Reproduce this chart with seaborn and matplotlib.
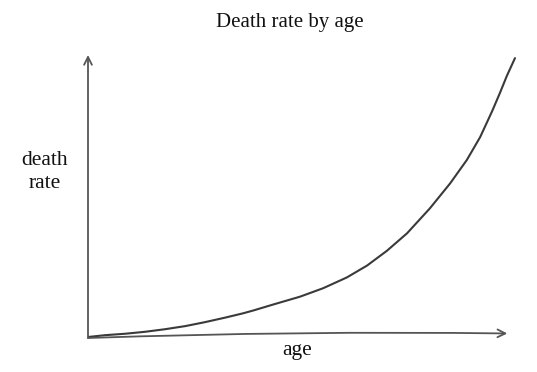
import matplotlib
matplotlib.use("Agg")
import matplotlib.pyplot as plt
import seaborn as sns
import pandas as pd

# Data (age 0-100, death rate 0-100 relative units)
age = [0, 4.0, 8.6, 13.3, 17.9, 22.6, 27.2, 31.9, 36.0, 38.4, 43.0, 49.3, 54.7, 60.2,
       64.9, 69.5, 74.2, 79.5, 84.2, 88.1, 91.2, 94.0, 95.8, 97.4, 99.3]
death_rate = [0.35, 1.0, 1.5, 2.2, 3.1, 4.2, 5.6, 7.2, 8.7, 9.7, 11.8, 14.6, 17.6, 21.4,
              25.6, 30.8, 37.0, 45.8, 54.6, 62.9, 71.0, 80.2, 86.6, 92.6, 98.9]

title = "Death rate by age"
x_label = "age"
y_label = "death\nrate"

sns.set_style("white")
plt.rcParams["font.family"] = ["Liberation Serif", "DejaVu Serif"]

W, H = 537, 372
fig = plt.figure(figsize=(W / 100, H / 100), dpi=100)
ax = fig.add_axes([88 / W, (H - 338) / H, (518 - 88) / W, (338 - 55) / H])

df = pd.DataFrame({"age": age, "death_rate": death_rate})
sns.lineplot(data=df, x="age", y="death_rate", ax=ax, color="#3a3a3a", linewidth=1.5)
for ln in ax.lines:
    ln.set_solid_joinstyle("round")
    ln.set_solid_capstyle("round")

ax.set_xlim(0, 100)
ax.set_ylim(0, 100)
for s in ax.spines.values():
    s.set_visible(False)
ax.set_xticks([])
ax.set_yticks([])
ax.set_xlabel("")
ax.set_ylabel("")

arrow_kw = dict(arrowstyle="->", color="#555555", lw=1.3, mutation_scale=14, shrinkA=0, shrinkB=0)
ax.annotate("", xy=(0, 100), xytext=(0, 0), xycoords="data", arrowprops=arrow_kw, annotation_clip=False)
ax.annotate("", xy=(97.5, 1.6), xytext=(0, 0), xycoords="data",
            arrowprops=dict(arrow_kw, connectionstyle="arc3,rad=-0.012"), annotation_clip=False)

fig.text(290 / W, 1 - 22 / H, title, ha="center", va="center", fontsize=15, color="#111111")
fig.text(45 / W, 1 - 172 / H, y_label, ha="center", va="center", fontsize=15.5, color="#111111", linespacing=1.35)
fig.text(297 / W, 1 - 351 / H, x_label, ha="center", va="center", fontsize=15.5, color="#111111")

fig.savefig("out.png", dpi=100, facecolor="white")
